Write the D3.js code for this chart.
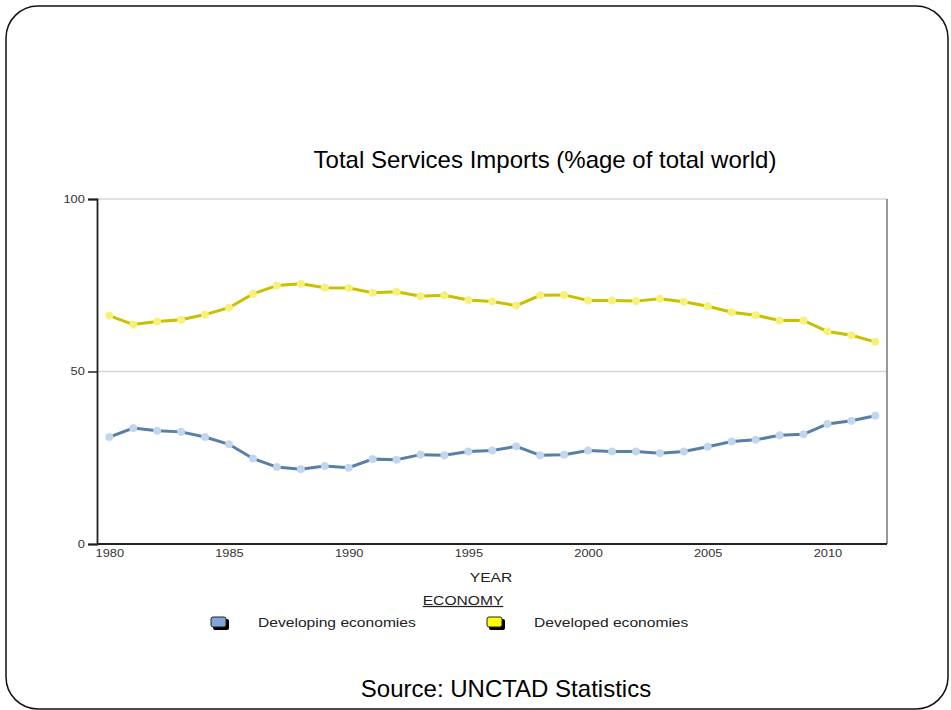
<!DOCTYPE html>
<html>
<head>
<meta charset="utf-8">
<script src="https://cdn.jsdelivr.net/npm/d3@7"></script>
<style>
  body { margin: 0; background: white; }
  text { font-family: "Liberation Sans", Arial, sans-serif; }
</style>
</head>
<body>
<div id="main_content"></div>
<script>
var width = 951, height = 710;

var years = d3.range(1980, 2013);
var developing = [31.0, 33.6, 32.8, 32.5, 31.0, 28.9, 24.8, 22.3, 21.7, 22.6,
  22.1, 24.6, 24.4, 25.9, 25.7, 26.8, 27.1, 28.3, 25.7, 25.9,
  27.1, 26.8, 26.8, 26.3, 26.8, 28.2, 29.7, 30.2, 31.5, 31.8,
  34.8, 35.7, 37.2];
var developed = [66.2, 63.6, 64.5, 65.0, 66.5, 68.5, 72.5, 74.9, 75.4, 74.3,
  74.2, 72.8, 73.1, 71.8, 72.1, 70.7, 70.3, 69.1, 72.1, 72.2,
  70.6, 70.6, 70.4, 71.1, 70.2, 68.9, 67.2, 66.3, 64.8, 64.8,
  61.6, 60.5, 58.6];
var yTicks = [0, 50, 100];
var xTicks = [1980, 1985, 1990, 1995, 2000, 2005, 2010];

var series = [
  {name: 'Developing economies', values: developing, line: '#5a7ea6', dot: '#c2d6ee', swatch: '#7ea6d6'},
  {name: 'Developed economies', values: developed, line: '#c8c000', dot: '#f6f17a', swatch: '#ffff00'}
];

var svg = d3.select('#main_content').append('svg')
  .attr('width', width)
  .attr('height', height)
  .style('display', 'block');

// slide frame
svg.append('rect')
  .attr('x', 6).attr('y', 6)
  .attr('width', 942).attr('height', 703)
  .attr('rx', 32).attr('ry', 32)
  .attr('fill', 'white')
  .attr('stroke', '#111')
  .attr('stroke-width', 1.5);

svg.append('text')
  .attr('x', 545).attr('y', 168)
  .attr('text-anchor', 'middle')
  .style('font-size', '24px')
  .attr('fill', '#000')
  .text('Total Services Imports (%age of total world)');

var plotLeft = 97, plotRight = 887, plotTop = 199, plotBottom = 544;

var x = d3.scaleLinear().domain([1980, 2012]).range([109.3, 875.3]);
var y = d3.scaleLinear().domain([0, 100]).range([plotBottom, plotTop]);

// grid lines
svg.selectAll('.grid')
  .data([50, 100])
  .enter().append('line')
  .attr('x1', plotLeft).attr('x2', plotRight)
  .attr('y1', function(d) { return y(d); })
  .attr('y2', function(d) { return y(d); })
  .attr('stroke', '#d6d6d6')
  .attr('stroke-width', 1.5);

// right border
svg.append('line')
  .attr('x1', plotRight).attr('x2', plotRight)
  .attr('y1', plotTop).attr('y2', plotBottom)
  .attr('stroke', '#777')
  .attr('stroke-width', 1.5);

var yAxis = svg.append('g')
  .attr('transform', 'translate(' + plotLeft + ',0)')
  .call(d3.axisLeft(y).tickValues(yTicks).tickSize(9).tickPadding(1));

var xAxis = svg.append('g')
  .attr('transform', 'translate(0,' + plotBottom + ')')
  .call(d3.axisBottom(x).tickValues(xTicks).tickFormat(d3.format('d')).tickSize(0).tickPadding(6));
xAxis.select('.domain').attr('d', 'M' + plotLeft + ',0H' + plotRight);

[yAxis, xAxis].forEach(function(ax) {
  ax.select('.domain').attr('stroke', '#222').attr('stroke-width', 1.8);
  ax.selectAll('.tick line').attr('stroke', '#222').attr('stroke-width', 1.5);
  ax.selectAll('.tick text')
    .attr('fill', '#333')
    .attr('transform', 'scale(1.22,1)')
    .style('font-size', '10.5px')
    .style('font-family', '"Liberation Sans", Arial, sans-serif');
});

var line = d3.line()
  .x(function(d, i) { return x(years[i]); })
  .y(function(d) { return y(d); });

series.forEach(function(s) {
  svg.append('path')
    .datum(s.values)
    .attr('d', line)
    .attr('fill', 'none')
    .attr('stroke', s.line)
    .attr('stroke-width', 3);

  svg.selectAll(null)
    .data(s.values)
    .enter().append('circle')
    .attr('cx', function(d, i) { return x(years[i]); })
    .attr('cy', function(d) { return y(d); })
    .attr('r', 3.8)
    .attr('fill', s.dot)
    .attr('stroke', s.dot)
    .attr('stroke-width', 0.5);
});

// wide, slightly stretched labels like the reference
function wideText(tx, ty, str, anchor) {
  return svg.append('text')
    .attr('transform', 'translate(' + tx + ',' + ty + ') scale(1.25,1)')
    .attr('text-anchor', anchor)
    .style('font-size', '12.5px')
    .attr('fill', '#222')
    .text(str);
}

wideText(491, 582, 'YEAR', 'middle');
wideText(463, 605, 'ECONOMY', 'middle').style('text-decoration', 'underline');

var legendX = [211, 487];
var legend = svg.selectAll('.legend')
  .data(series)
  .enter().append('g')
  .attr('transform', function(d, i) { return 'translate(' + legendX[i] + ',617)'; });

legend.append('rect')
  .attr('x', 2).attr('y', 2)
  .attr('width', 16).attr('height', 11)
  .attr('rx', 2)
  .attr('fill', '#000');
legend.append('rect')
  .attr('x', 0).attr('y', 0)
  .attr('width', 15).attr('height', 10)
  .attr('rx', 2)
  .attr('fill', function(d) { return d.swatch; })
  .attr('stroke', '#222')
  .attr('stroke-width', 1);
legend.append('text')
  .attr('transform', 'translate(47,10) scale(1.25,1)')
  .style('font-size', '12.5px')
  .attr('fill', '#222')
  .text(function(d) { return d.name; });

svg.append('text')
  .attr('x', 506).attr('y', 697)
  .attr('text-anchor', 'middle')
  .style('font-size', '24px')
  .attr('fill', '#000')
  .text('Source: UNCTAD Statistics');
</script>
</body>
</html>
